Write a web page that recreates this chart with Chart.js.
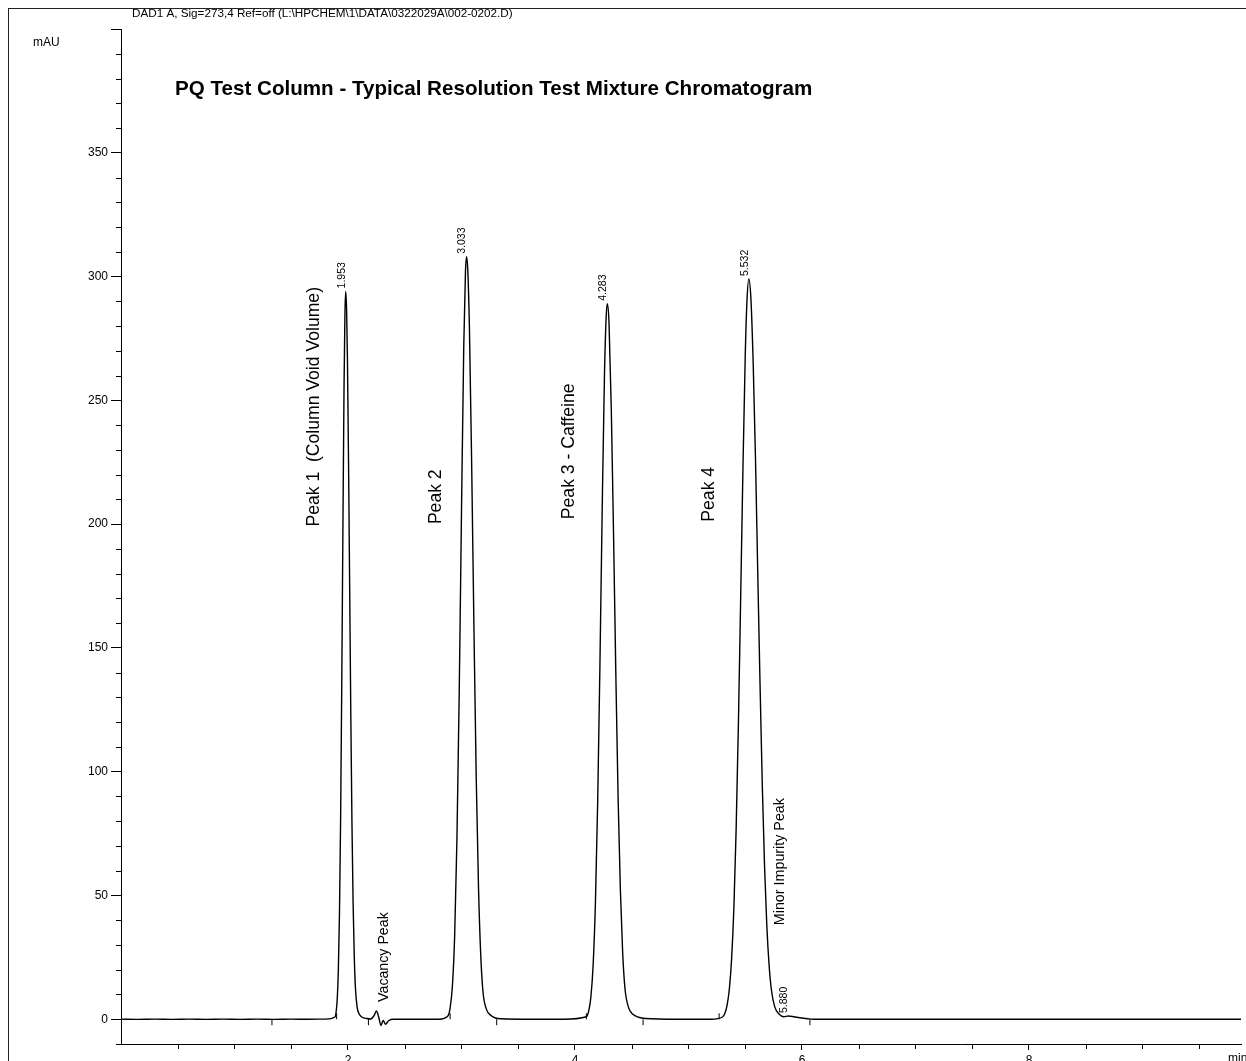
<!DOCTYPE html>
<html>
<head>
  <meta charset="UTF-8" />
  <title>PQ Test Column - Chromatogram</title>
  <style>
    body { margin: 0; background: white; }
    canvas { display: block; }
  </style>
  <script src="https://cdn.jsdelivr.net/npm/chart.js"></script>
</head>
<body>
<canvas id="chrom" width="1246" height="1061"></canvas>
<script>
// signal trace, retention time (min) vs absorbance (mAU)
const times = [
  0.00, 0.15, 0.30, 0.45, 0.60, 0.75, 0.90, 1.05, 1.20, 1.35, 1.50, 1.65, 1.80,
  1.885, 1.895, 1.905, 1.915, 1.925, 1.935, 1.945, 1.955, 1.965, 1.973, 1.98,
  1.988, 1.995, 2.005, 2.015, 2.025, 2.035, 2.045, 2.055, 2.065, 2.08, 2.10, 2.125, 2.165, 2.20,
  2.23, 2.25, 2.27, 2.29, 2.31, 2.33, 2.36, 2.40, 2.60, 2.80,
  2.88, 2.90, 2.92, 2.94, 2.96, 2.98, 3.00, 3.02, 3.035, 3.045,
  3.055, 3.07, 3.09, 3.11, 3.13, 3.15, 3.17, 3.19, 3.22, 3.26, 3.30, 3.35, 3.60, 3.90,
  4.10, 4.12, 4.14, 4.16, 4.18, 4.20, 4.22, 4.24, 4.26, 4.275, 4.285,
  4.30, 4.32, 4.34, 4.36, 4.38, 4.40, 4.42, 4.44, 4.47, 4.51, 4.56, 4.62, 4.90, 5.20,
  5.30, 5.32, 5.34, 5.36, 5.38, 5.40, 5.42, 5.44, 5.46, 5.48, 5.50, 5.515, 5.532,
  5.55, 5.57, 5.59, 5.61, 5.63, 5.65, 5.67, 5.69, 5.71, 5.73, 5.76, 5.80, 5.84,
  5.88, 5.93, 5.98, 6.05, 6.10, 6.60, 7.00, 7.40, 7.80, 8.20, 8.60, 9.00, 9.40, 9.87
];
const signal = [
  0.05, -0.05, 0.05, -0.05, 0.05, -0.05, 0.05, -0.05, 0.05, -0.05, 0.05, 0.0, 0.05,
  0.9, 2.9, 8, 20, 43, 81, 135, 197, 255, 285, 294,
  286, 267, 224, 173, 122, 79, 47, 26, 13, 5, 2, 0.8, 0.3, 0.1,
  1.5, 3.3, 1.0, -2.5, -0.5, -2.0, -0.5, 0.0, 0.0, 0.0,
  1.3, 4.6, 13.5, 34, 73, 132, 205, 272, 302, 308,
  303, 279, 223, 157, 97, 53, 25.5, 10.8, 4, 1.5, 0.5, 0.2, 0.0, 0.0,
  1.0, 3.2, 9, 22, 47, 88, 144, 207, 261, 284, 289,
  281, 246, 195, 139, 89, 52, 27, 12.6, 5, 2, 0.8, 0.3, 0.0, 0.0,
  0.9, 2.3, 5.6, 12.2, 24.5, 45, 77, 120, 171, 223, 268, 290, 299,
  291, 265, 227, 181, 136, 95, 62, 38, 22, 12, 5, 2, 1,
  1.3, 1.0, 0.6, 0.2, 0.0, 0.0, 0.0, 0.0, 0.0, 0.0, 0.0, 0.0, 0.0, 0.0
];

// integration event marks on the baseline
const eventTimes = [1.33, 1.90, 2.18, 2.90, 3.31, 4.10, 4.60, 5.27, 6.07];
const eventLevels = [-1.2, 1.2, -1.2, 1.2, -1.2, 1.2, -1.2, 1.2, -1.2];

// retention time labels: where the apex is, and the printed value
const rtTimes = [1.982, 3.045, 4.285, 5.532, 5.88];
const rtHeights = [294, 308, 289, 299, 1.3];
const rtTexts = ["1.953", "3.033", "4.283", "5.532", "5.880"];

// peak name annotations (rotated), anchored at their lower end
const noteTexts = ["Peak 1  (Column Void Volume)", "Peak 2", "Peak 3 - Caffeine", "Peak 4", "Vacancy Peak", "Minor Impurity Peak"];
const noteTimes = [1.70, 2.78, 3.95, 5.185, 2.315, 5.81];
const noteLevels = [199, 200, 202, 201, 7, 38];
const noteSizes = [17.6, 17.6, 17.6, 17.6, 14.2, 14.3];

const headerText = "DAD1 A, Sig=273,4 Ref=off (L:\\HPCHEM\\1\\DATA\\0322029A\\002-0202.D)";
const titleText = "PQ Test Column - Typical Resolution Test Mixture Chromatogram";
const yMajor = [0, 50, 100, 150, 200, 250, 300, 350];
const xMajor = [2, 4, 6, 8];

const FONT = "'Liberation Sans', Arial, sans-serif";

const tracePoints = times.map((t, i) => ({ x: t, y: signal[i] }));
const eventPoints = eventTimes.map((t, i) => ({ x: t, y: eventLevels[i] }));

// frame, header, title, minor ticks and annotations
const printout = {
  id: "printout",
  beforeDraw(chart) {
    const ctx = chart.ctx;
    ctx.save();
    ctx.fillStyle = "#fff";
    ctx.fillRect(0, 0, chart.width, chart.height);
    ctx.strokeStyle = "#222";
    ctx.lineWidth = 1;
    ctx.strokeRect(8.5, 8.5, chart.width + 20, chart.height + 20);
    ctx.restore();
  },
  afterDraw(chart) {
    const ctx = chart.ctx;
    const xs = chart.scales.x, ys = chart.scales.y;
    ctx.save();
    ctx.fillStyle = "#000";
    ctx.strokeStyle = "#000";
    ctx.lineWidth = 1;

    // minor ticks
    ys.ticks.forEach(t => {
      if (t.value % 50 !== 0) {
        const py = Math.round(ys.getPixelForValue(t.value)) + 0.5;
        ctx.beginPath();
        ctx.moveTo(xs.left - 5, py);
        ctx.lineTo(xs.left, py);
        ctx.stroke();
      }
    });
    xs.ticks.forEach(t => {
      if (!xMajor.includes(t.value) && t.value > 0) {
        const px = Math.round(xs.getPixelForValue(t.value)) + 0.5;
        ctx.beginPath();
        ctx.moveTo(px, ys.bottom);
        ctx.lineTo(px, ys.bottom + 5);
        ctx.stroke();
      }
    });

    // header + title + units
    ctx.font = "11.7px " + FONT;
    ctx.textBaseline = "middle";
    ctx.textAlign = "left";
    ctx.fillText(headerText, 132, 14);
    ctx.font = "12px " + FONT;
    ctx.fillText("mAU", 33, 43);
    ctx.textBaseline = "top";
    ctx.fillText("min", 1228, ys.bottom + 9);
    ctx.font = "bold 20.6px " + FONT;
    ctx.textBaseline = "middle";
    ctx.fillText(titleText, 175, 89);

    // rotated annotations
    const rotText = (txt, px, py, size) => {
      ctx.save();
      ctx.translate(px, py);
      ctx.rotate(-Math.PI / 2);
      ctx.font = size + "px " + FONT;
      ctx.textAlign = "left";
      ctx.textBaseline = "middle";
      ctx.fillText(txt, 0, 0);
      ctx.restore();
    };
    noteTexts.forEach((txt, i) => {
      rotText(txt, xs.getPixelForValue(noteTimes[i]), ys.getPixelForValue(noteLevels[i]), noteSizes[i]);
    });
    rtTexts.forEach((txt, i) => {
      rotText(txt, xs.getPixelForValue(rtTimes[i]) - 4, ys.getPixelForValue(rtHeights[i]) - 3, 10.5);
    });
    ctx.restore();
  }
};

new Chart(document.getElementById("chrom").getContext("2d"), {
  type: "scatter",
  data: {
    datasets: [
      {
        label: "DAD1 A",
        data: tracePoints,
        showLine: true,
        borderColor: "#000",
        borderWidth: 1.4,
        pointRadius: 0,
        cubicInterpolationMode: "monotone"
      },
      {
        label: "events",
        data: eventPoints,
        pointStyle: "line",
        rotation: 90,
        radius: 3,
        borderColor: "#000",
        borderWidth: 1
      }
    ]
  },
  options: {
    responsive: false,
    animation: false,
    devicePixelRatio: 1,
    layout: { padding: { top: 29, left: 0, right: 0, bottom: 0 } },
    plugins: { legend: { display: false }, tooltip: { enabled: false } },
    scales: {
      x: {
        type: "linear",
        min: 0,
        max: 9.868,
        afterFit: s => { s.height = 17; },
        border: { display: true, color: "#000", width: 1 },
        grid: {
          drawOnChartArea: false,
          tickLength: 6,
          tickColor: c => xMajor.includes(c.tick.value) ? "#000" : "rgba(0,0,0,0)"
        },
        ticks: {
          stepSize: 0.5,
          includeBounds: false,
          autoSkip: false,
          maxRotation: 0,
          padding: 3,
          color: "#000",
          font: { family: FONT, size: 12 },
          callback: v => xMajor.includes(v) ? String(v) : ""
        }
      },
      y: {
        type: "linear",
        min: -10,
        max: 400,
        afterFit: s => { s.width = 121; },
        border: { display: true, color: "#000", width: 1 },
        grid: {
          drawOnChartArea: false,
          tickLength: 10,
          tickColor: c => c.tick.value % 50 === 0 ? "#000" : "rgba(0,0,0,0)"
        },
        ticks: {
          stepSize: 10,
          autoSkip: false,
          padding: 3,
          color: "#000",
          font: { family: FONT, size: 12 },
          callback: v => yMajor.includes(v) ? String(v) : ""
        }
      }
    }
  },
  plugins: [printout]
});
</script>
</body>
</html>
